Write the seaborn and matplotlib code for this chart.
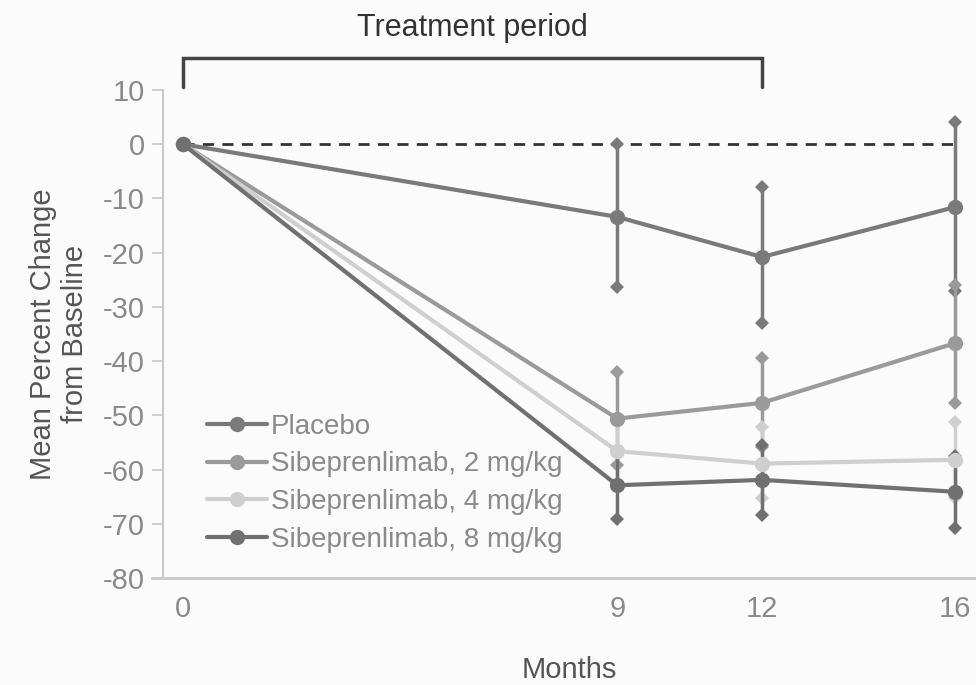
import matplotlib
matplotlib.use("Agg")
import matplotlib.pyplot as plt
import seaborn as sns
import pandas as pd

months = [0, 9, 12, 16]
groups = ["Placebo", "Sibeprenlimab, 2 mg/kg", "Sibeprenlimab, 4 mg/kg", "Sibeprenlimab, 8 mg/kg"]
placebo_mean = [0, -13.4, -20.8, -11.6]
placebo_upper = [0, 0.0, -7.9, 4.1]
placebo_lower = [0, -26.3, -32.9, -27.0]
mg2_mean = [0, -50.6, -47.7, -36.7]
mg2_upper = [0, -42.0, -39.5, -26.0]
mg2_lower = [0, -59.2, -55.8, -47.7]
mg4_mean = [0, -56.6, -58.9, -58.2]
mg4_upper = [0, -50.5, -52.1, -51.2]
mg4_lower = [0, -62.7, -65.3, -65.2]
mg8_mean = [0, -62.9, -61.9, -64.1]
mg8_upper = [0, -56.7, -55.4, -57.5]
mg8_lower = [0, -69.1, -68.4, -70.7]
yticks = list(range(-80, 11, 10))
xticks = [0, 9, 12, 16]

means = [placebo_mean, mg2_mean, mg4_mean, mg8_mean]
uppers = [placebo_upper, mg2_upper, mg4_upper, mg8_upper]
lowers = [placebo_lower, mg2_lower, mg4_lower, mg8_lower]
colors = ["#7a7a7a", "#9a9a9a", "#cfcfcf", "#707070"]

rows = []
for g, m in zip(groups, means):
    for x, v in zip(months, m):
        rows.append({"Months": x, "Change": v, "Group": g})
df = pd.DataFrame(rows)

sns.set_theme(style="white")
plt.rcParams["font.family"] = ["Liberation Sans", "DejaVu Sans"]

fig = plt.figure(figsize=(9.76, 6.85), dpi=100)
fig.patch.set_facecolor("#fbfbfb")
ax = fig.add_axes([163 / 976, 1 - 578 / 685, 1 - 163 / 976, (578 - 90) / 685])
ax.set_facecolor("#fbfbfb")

ax.plot([0, 16], [0, 0], linestyle=(0, (4, 3)), color="#333333", lw=2.0, zorder=1)

for g, c, up, lo in zip(groups, colors, uppers, lowers):
    ax.vlines(months[1:], lo[1:], up[1:], color=c, lw=2.5, zorder=2)
    ax.plot(months[1:], up[1:], "D", color=c, ms=7.5, mew=0, ls="none", zorder=2)
    ax.plot(months[1:], lo[1:], "D", color=c, ms=7.5, mew=0, ls="none", zorder=2)

sns.lineplot(data=df, x="Months", y="Change", hue="Group", hue_order=groups,
             palette=dict(zip(groups, colors)), marker="o", markersize=11,
             markeredgewidth=0, linewidth=3, ax=ax, zorder=3, legend=True)

ax.set_xlim(-20 / 48.25, 16 + 21 / 48.25)
ax.set_ylim(-80, 10)
ax.set_yticks(yticks)
ax.set_yticklabels([str(t) for t in yticks])
ax.set_xticks(xticks)
ax.tick_params(axis="y", which="both", left=True, length=8, width=1.2, color="#c8c8c8",
               labelsize=21, labelcolor="#8a8a8a", pad=5)
ax.tick_params(axis="x", bottom=False, labelsize=21, labelcolor="#8a8a8a", pad=6)
for s in ["top", "right"]:
    ax.spines[s].set_visible(False)
ax.spines["left"].set_color("#c8c8c8")
ax.spines["left"].set_linewidth(1.5)
ax.spines["bottom"].set_color("#c8c8c8")
ax.spines["bottom"].set_linewidth(2)
ax.spines["bottom"].set_bounds(-31 / 48.25, 16 + 21 / 48.25)

ax.set_xlabel("Months", fontsize=21, color="#555555", labelpad=24)
ax.set_ylabel("Mean Percent Change\nfrom Baseline", fontsize=21, color="#555555",
              labelpad=10, linespacing=1.2)

leg = ax.legend(loc="lower left", bbox_to_anchor=(0.03, 0.012), frameon=False,
                fontsize=20, handlelength=2.15, handletextpad=0.15,
                labelspacing=0.42, borderpad=0.2)
for t in leg.get_texts():
    t.set_color("#8a8a8a")

# Treatment period bracket
bx = [0, 0, 12, 12]
by = [10.5, 15.9, 15.9, 10.5]
ax.plot(bx, by, color="#444444", lw=2.5, clip_on=False, solid_joinstyle="miter")
ax.text(6, 18.6, "Treatment period", ha="center", va="bottom", fontsize=22,
        color="#333333", clip_on=False)

fig.savefig("out.png", dpi=100, facecolor=fig.get_facecolor())
